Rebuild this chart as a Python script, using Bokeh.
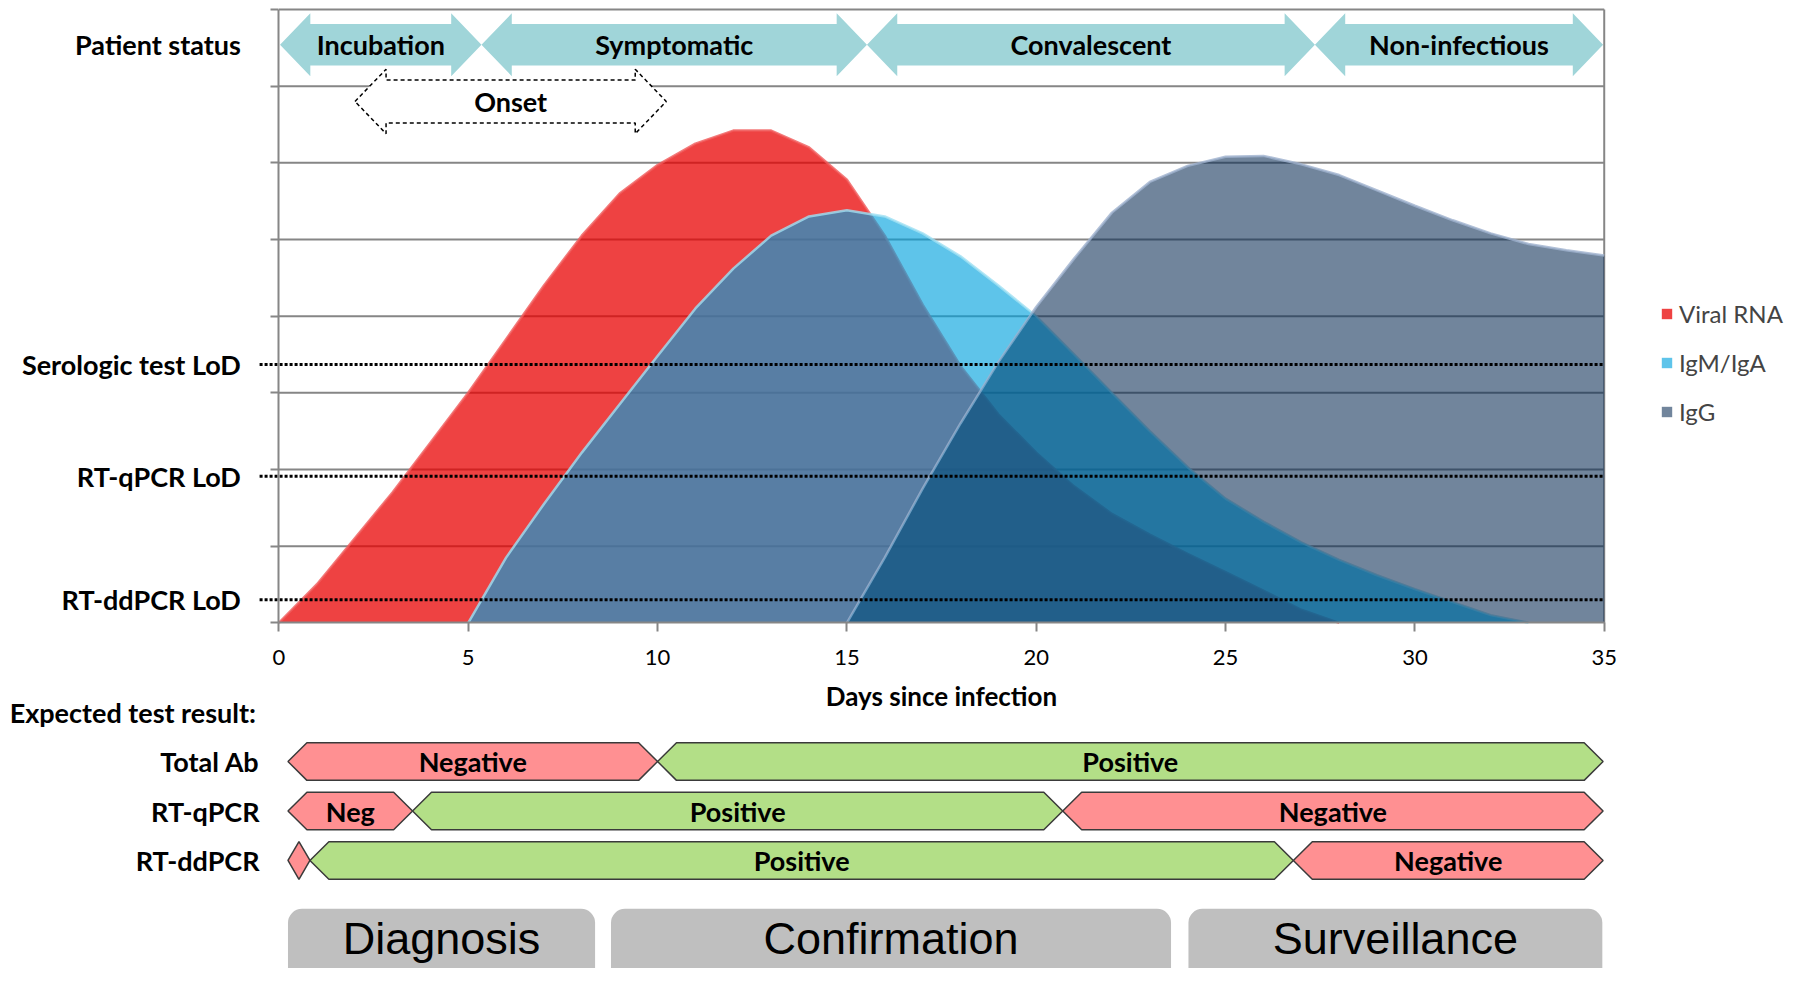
import numpy as np
from bokeh.plotting import figure
from bokeh.models import Range1d, LinearAxis, FixedTicker, Legend, LegendItem
from bokeh.core.properties import value
from bokeh.embed import file_html
from bokeh.resources import INLINE

# ---------------- data ----------------
days = list(range(36))
viral_rna = [0, 0.5, 1.1, 1.7, 2.35, 3.0, 3.7, 4.4, 5.05, 5.6, 5.97, 6.25, 6.42, 6.42, 6.2, 5.78,
             5.05, 4.15, 3.35, 2.72, 2.22, 1.78, 1.42, 1.15, 0.9, 0.66, 0.42, 0.17, 0, 0, 0, 0, 0, 0, 0, 0]
igm_iga = [0, 0, 0, 0, 0, 0, 0.85, 1.55, 2.22, 2.85, 3.48, 4.1, 4.62, 5.05, 5.3, 5.38, 5.3, 5.08,
           4.78, 4.4, 4.0, 3.5, 3.0, 2.5, 2.03, 1.62, 1.32, 1.05, 0.82, 0.62, 0.44, 0.27, 0.1, 0, 0, 0]
igg = [0] * 15 + [0, 0.85, 1.75, 2.6, 3.4, 4.12, 4.75, 5.35, 5.75, 5.96, 6.08, 6.09, 5.98, 5.84,
                  5.64, 5.44, 5.25, 5.08, 4.94, 4.86, 4.79]
series_names = ["Viral RNA", "IgM/IgA", "IgG"]

x_ticks = [0, 5, 10, 15, 20, 25, 30, 35]
grid_levels = [0, 1, 2, 3, 4, 5, 6, 7, 8]

lod_names = ["RT-ddPCR LoD", "RT-qPCR LoD", "Serologic test LoD"]
lod_levels = [0.30, 1.91, 3.37]
status_row_label = "Patient status"
status_row_y = 7.54

status_names = ["Incubation", "Symptomatic", "Convalescent", "Non-infectious"]
status_bounds = [0.03, 5.35, 15.53, 27.36, 34.97]
onset_label = "Onset"
onset_range = [2.01, 10.23]
onset_y = 6.80

result_title = "Expected test result:"
test_names = ["Total Ab", "RT-qPCR", "RT-ddPCR"]
test_rows_y = [-1.81, -2.455, -3.10]
test_bounds = [[0.24, 10.0, 34.97], [0.24, 3.53, 20.7, 34.97], [0.24, 0.82, 26.79, 34.97]]
test_outcomes = [["neg", "pos"], ["neg", "pos", "neg"], ["neg", "pos", "neg"]]
test_texts = [["Negative", "Positive"], ["Neg", "Positive", "Negative"], ["", "Positive", "Negative"]]

use_names = ["Diagnosis", "Confirmation", "Surveillance"]
use_left = [0.24, 8.77, 24.02]
use_right = [8.35, 23.56, 34.95]
use_top = -3.73
use_text_y = -4.12

# ---------------- style ----------------
GRID = "#868686"
RED, CYAN, GRAY = "#E80000", "#00A2DE", "#0A2D55"
TEAL = "#A0D5D9"
NEG, POS = "#FF9092", "#B3DF87"
FONT = value("Lato")
BOLD = "27px"
W, H = 1787, 968
X0, X1 = -7.352, 39.84
Y0, Y1 = -4.509, 8.117

p = figure(width=W, height=H, x_range=Range1d(X0, X1), y_range=Range1d(Y0, Y1),
           x_axis_type=None, y_axis_type=None, toolbar_location=None, output_backend="svg",
           min_border_left=0, min_border_right=0, min_border_top=0, min_border_bottom=0,
           outline_line_color=None, background_fill_color="white")

# grid lines and plot box (bounded to the chart area)
p.segment(x0=[0] * 8, x1=[x_ticks[-1]] * 8, y0=grid_levels[1:], y1=grid_levels[1:],
          line_color=GRID, line_width=2)
p.segment(x0=[x_ticks[-1]], x1=[x_ticks[-1]], y0=[grid_levels[0]], y1=[grid_levels[-1]],
          line_color=GRID, line_width=2)


def active(vals):
    idx = [i for i, v in enumerate(vals) if v > 0]
    a, b = max(idx[0] - 1, 0), min(idx[-1] + 1, len(vals) - 1)
    return days[a:b + 1], vals[a:b + 1]


def lower_envelope(a, b):
    """Piecewise-linear minimum of two series, with the exact crossing points."""
    xs, ys = [], []
    for i in range(len(days) - 1):
        xs.append(days[i]); ys.append(min(a[i], b[i]))
        d0, d1 = a[i] - b[i], a[i + 1] - b[i + 1]
        if d0 * d1 < 0:
            t = d0 / (d0 - d1)
            xs.append(days[i] + t); ys.append(a[i] + t * (a[i + 1] - a[i]))
    xs.append(days[-1]); ys.append(min(a[-1], b[-1]))
    return xs, ys


# areas, each with its edge directly on top of it
renderers = []
for vals, col, alpha, edge in [(viral_rna, RED, 0.74, "#F05A5A"),
                               (igm_iga, CYAN, 0.63, "#9FE0F2"),
                               (igg, GRAY, 0.58, "#9FB2CE")]:
    renderers.append(p.varea(x=days, y1=0, y2=vals, fill_color=col, fill_alpha=alpha))
    xs, ys = active(vals)
    p.line(xs, ys, line_color=edge, line_width=2.5, line_alpha=0.8)

# IgM/IgA shows through IgG a little more where the two overlap
ex, ey = lower_envelope(igg, igm_iga)
p.varea(x=ex, y1=0, y2=ey, fill_color="#00A0DC", fill_alpha=0.2)

# LoD dotted lines
p.segment(x0=[-0.51] * 3, x1=[35] * 3, y0=lod_levels, y1=lod_levels,
          line_color="black", line_width=3, line_dash="3 2")


def double_arrow(x0, x1, yc, L, hh, sh):
    return ([x0, x0 + L, x0 + L, x1 - L, x1 - L, x1, x1 - L, x1 - L, x0 + L, x0 + L],
            [yc, yc + hh, yc + sh, yc + sh, yc + hh, yc, yc - hh, yc - sh, yc - sh, yc - hh])


def hexagon(x0, x1, yc, h, tip=0.5):
    t = min(tip, (x1 - x0) / 2)
    return ([x0, x0 + t, x1 - t, x1, x1 - t, x0 + t], [yc, yc + h, yc + h, yc, yc - h, yc - h])


# patient status arrows
sx, sy, sc = [], [], []
for i, name in enumerate(status_names):
    a, b = double_arrow(status_bounds[i], status_bounds[i + 1], status_row_y, 0.8, 0.41, 0.27)
    sx.append(a); sy.append(b); sc.append((status_bounds[i] + status_bounds[i + 1]) / 2)
p.patches(sx, sy, fill_color=TEAL, line_color=None)
p.text(x=sc, y=[status_row_y] * 4, text=status_names, text_font=FONT, text_font_style="bold",
       text_font_size=BOLD, text_align="center", text_baseline="middle", text_color="black")

# onset arrow
ox, oy = double_arrow(onset_range[0], onset_range[1], onset_y, 0.82, 0.42, 0.28)
p.patch(ox, oy, fill_color="white", line_color="black", line_width=1.5, line_dash="4 3")
p.text(x=[sum(onset_range) / 2], y=[onset_y], text=[onset_label], text_font=FONT,
       text_font_style="bold", text_font_size=BOLD, text_align="center", text_baseline="middle")

# axes
xaxis = LinearAxis(ticker=FixedTicker(ticks=x_ticks), fixed_location=0, bounds=(0, 35),
                   axis_label="Days since infection", axis_line_color=GRID, axis_line_width=2,
                   major_tick_line_color=GRID, major_tick_line_width=2, major_tick_out=9, major_tick_in=0,
                   minor_tick_out=0, minor_tick_in=0, major_label_standoff=18,
                   major_label_text_font="Lato", major_label_text_font_size="22px",
                   major_label_text_color="black", axis_label_text_font="Lato",
                   axis_label_text_font_style="bold", axis_label_text_font_size="26px",
                   axis_label_standoff=12, axis_label_text_color="black")
p.add_layout(xaxis, "below")

ylabels = {v: n for v, n in zip(lod_levels, lod_names)}
ylabels[status_row_y] = status_row_label
yaxis = LinearAxis(ticker=FixedTicker(ticks=lod_levels + [status_row_y], minor_ticks=grid_levels),
                   fixed_location=0, bounds=(0, 8), major_label_overrides=ylabels,
                   axis_line_color=GRID, axis_line_width=2, major_tick_out=0, major_tick_in=0,
                   minor_tick_out=8, minor_tick_in=0, minor_tick_line_color=GRID, minor_tick_line_width=2,
                   major_label_standoff=30, major_label_text_font="Lato",
                   major_label_text_font_style="bold", major_label_text_font_size=BOLD,
                   major_label_text_color="black")
p.add_layout(yaxis, "left")

# expected test results
p.text(x=[-7.11], y=[-1.17], text=[result_title], text_font=FONT, text_font_style="bold",
       text_font_size=BOLD, text_align="left", text_baseline="middle")
p.text(x=[-0.51] * 3, y=test_rows_y, text=test_names, text_font=FONT, text_font_style="bold",
       text_font_size=BOLD, text_align="right", text_baseline="middle")
hx, hy, hc, tx, ty, tt = [], [], [], [], [], []
for r, yc in enumerate(test_rows_y):
    bnd = test_bounds[r]
    for k in range(len(bnd) - 1):
        a, b = hexagon(bnd[k], bnd[k + 1], yc, 0.245)
        hx.append(a); hy.append(b)
        hc.append(NEG if test_outcomes[r][k] == "neg" else POS)
        tx.append((bnd[k] + bnd[k + 1]) / 2); ty.append(yc); tt.append(test_texts[r][k])
p.patches(hx, hy, fill_color=hc, line_color="#3A3A3A", line_width=1.5)
p.text(x=tx, y=ty, text=tt, text_font=FONT, text_font_style="bold", text_font_size=BOLD,
       text_align="center", text_baseline="middle")

# use-case boxes
p.quad(left=use_left, right=use_right, top=use_top, bottom=-5.2, fill_color="#BFBFBF",
       line_color=None, border_radius=14)
p.text(x=[(a + b) / 2 for a, b in zip(use_left, use_right)], y=[use_text_y] * 3, text=use_names,
       text_font=value("Liberation Sans"), text_font_size="45px", text_align="center",
       text_baseline="middle")

# legend
legend = Legend(items=[LegendItem(label=n, renderers=[r]) for n, r in zip(series_names, renderers)],
                location=(1660, 542), padding=0, margin=0, spacing=20, glyph_width=13, glyph_height=13,
                label_standoff=6, label_height=26, label_text_font="Lato", label_text_font_size="24px",
                background_fill_alpha=0, border_line_alpha=0)
p.add_layout(legend, "center")

open("out.html", "w").write(file_html(p, INLINE))
